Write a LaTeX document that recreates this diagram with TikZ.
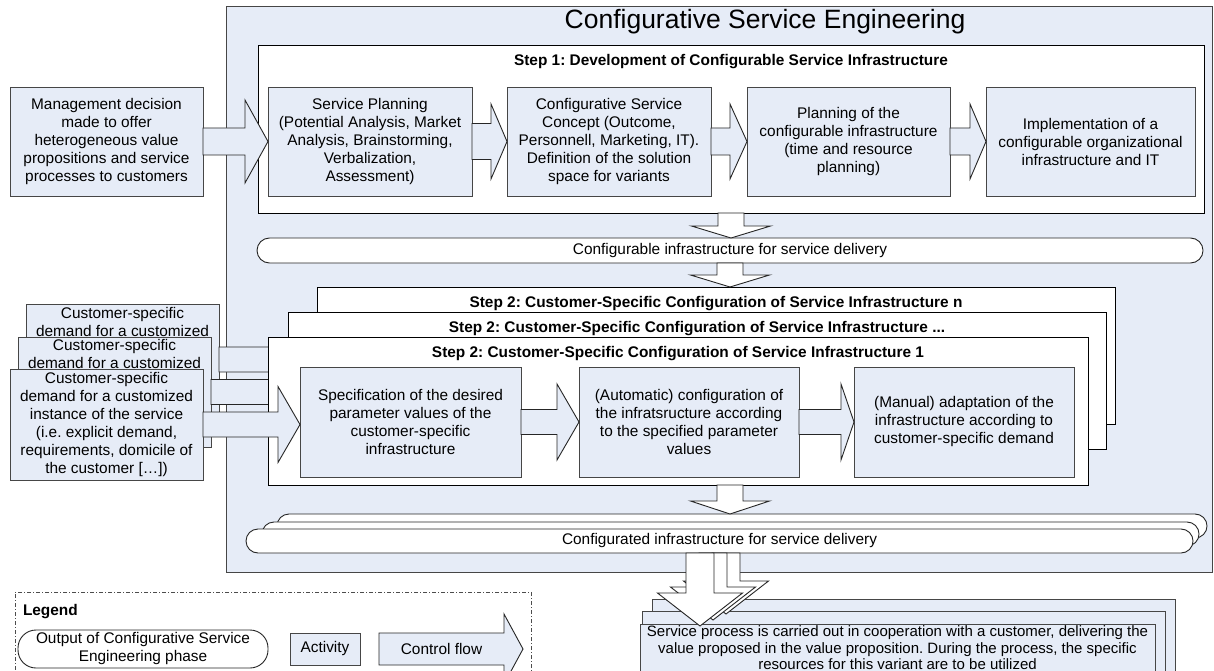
\documentclass[tikz,border=0pt]{standalone}
\usepackage{fontspec}
\setmainfont{Liberation Sans}
\usepackage{xcolor}
\definecolor{cselight}{RGB}{230,236,247}
\definecolor{cseline}{RGB}{70,70,70}
\usetikzlibrary{calc}

% block arrow to the right: style, start, tip, shaft half, head half, head length
\newcommand{\flowright}[6]{%
  \draw[#1] let \p1=(#2), \p2=(#3) in
    (\x1,\y2+#4pt) -- (\x2-#6pt,\y2+#4pt) -- (\x2-#6pt,\y2+#5pt) -- (\x2,\y2)
    -- (\x2-#6pt,\y2-#5pt) -- (\x2-#6pt,\y2-#4pt) -- (\x1,\y2-#4pt) -- cycle;}
% block arrow pointing down
\newcommand{\flowdown}[6]{%
  \draw[#1] let \p1=(#2), \p2=(#3) in
    (\x2-#4pt,\y1) -- (\x2-#4pt,\y2+#6pt) -- (\x2-#5pt,\y2+#6pt) -- (\x2,\y2)
    -- (\x2+#5pt,\y2+#6pt) -- (\x2+#4pt,\y2+#6pt) -- (\x2+#4pt,\y1) -- cycle;}
\newcommand{\demandtext}{Customer-specific\\demand for a customized\\instance of the service\\(i.e. explicit demand,\\requirements, domicile of\\the customer […])}

\begin{document}
\frenchspacing
\begin{tikzpicture}[x=1pt,y=-1pt,
    every node/.style={inner sep=0pt,outer sep=0pt,align=center,font=\fontsize{15.4}{18}\selectfont},
    boxsize/.style 2 args={minimum width=#1pt,minimum height=#2pt},
    activity/.style={draw=cseline,fill=cselight,line width=0.9pt},
    stepbox/.style={draw=black,fill=white,line width=0.9pt},
    outputcap/.style={draw=black!85,fill=white,rounded corners=12pt,line width=0.9pt},
    heading/.style={font=\fontsize{15.4}{18}\selectfont\bfseries},
    flow/.style={draw=black!85,fill=cselight,line width=0.9pt},
    flowdn/.style={draw=black!85,fill=white,line width=0.9pt}]
    \useasboundingbox (0,0) rectangle (1214,671);

    \node(cse)[draw=cseline,fill=cselight,line width=0.9pt,boxsize={986}{566}] at (719,289) {};
    \node(title)[font=\fontsize{26.5}{30}\selectfont] at (765,22) {Configurative Service Engineering};

    % step 1
    \node(s1)[stepbox,boxsize={946}{168}] at (731,129) {};
    \node(s1h)[heading] at ([yshift=-16.5pt]s1.north) {Step 1: Development of Configurable Service Infrastructure};
    \node(mgmt)[activity,boxsize={193}{109}] at (106.5,141.5) {Management decision\\made to offer\\heterogeneous value\\propositions and service\\processes to customers};
    \node(plan)[activity,boxsize={204}{109}] at (370,141.5) {Service Planning\\(Potential Analysis, Market\\Analysis, Brainstorming,\\Verbalization,\\Assessment)};
    \node(concept)[activity,boxsize={204}{109}] at (609,141.5) {Configurative Service\\Concept (Outcome,\\Personnell, Marketing, IT).\\Definition of the solution\\space for variants};
    \node(infra)[activity,boxsize={203}{109}] at (848.5,141.5) {Planning of the\\configurable infrastructure\\(time and resource\\planning)};
    \node(impl)[activity,boxsize={209}{109}] at (1090.5,141.5) {Implementation of a\\configurable organizational\\infrastructure and IT};
    \flowright{flow}{mgmt.east}{plan.west}{13.5}{41.5}{23}
    \flowright{flow}{plan.east}{concept.west}{18}{37.5}{16}
    \flowright{flow}{concept.east}{infra.west}{13.5}{37.5}{17}
    \flowright{flow}{infra.east}{impl.west}{13.5}{37.5}{16}

    \node(cap1)[outputcap,boxsize={946}{25},rounded corners=12.5pt] at (730,250.5) {Configurable infrastructure for service delivery};
    \flowdown{flowdn}{s1.south}{s1.south |- cap1.north}{13}{39.5}{12}

    % customer-specific demand
    \node(custc)[activity,boxsize={193}{111}] at (122.5,359.5) {\demandtext};
    \node(custb)[activity,boxsize={193}{110}] at (114.5,392) {\demandtext};
    \node(custa)[activity,boxsize={193}{111}] at (106.5,424.5) {\demandtext};
    \node(s2n)[stepbox,boxsize={798}{137}] at (716,355.5) {};
    \flowright{flow}{custc.east}{s2n.west |- custc.east}{12.5}{38}{16}
    \flowright{flow}{custb.east}{[xshift=-29pt]s2n.west |- custb.east}{12.5}{38}{16}
    \flowdown{flowdn}{cap1.south}{cap1.south |- s2n.north}{13}{39.5}{12}

    % step 2
    \node(s2nh)[heading] at ([yshift=-16.5pt]s2n.north) {Step 2: Customer-Specific Configuration of Service Infrastructure n};
    \node(s2m)[stepbox,boxsize={818}{137}] at (697,380.5) {};
    \node(s2mh)[heading] at ([yshift=-16.5pt]s2m.north) {Step 2: Customer-Specific Configuration of Service Infrastructure ...};
    \node(s2a)[stepbox,boxsize={820}{148}] at (678,411) {};
    \node(s2ah)[heading] at ([yshift=-16.5pt]s2a.north) {Step 2: Customer-Specific Configuration of Service Infrastructure 1};
    \node(spec)[activity,boxsize={221}{110}] at (410.5,422) {Specification of the desired\\parameter values of the\\customer-specific\\infrastructure};
    \node(auto)[activity,boxsize={220}{110}] at (689,422) {(Automatic) configuration of\\the infratsructure according\\to the specified parameter\\values};
    \node(manual)[activity,boxsize={220}{110}] at (964,422) {(Manual) adaptation of the\\infrastructure according to\\customer-specific demand};
    \flowright{flow}{custa.east}{spec.west |- custa.east}{12.5}{38}{22}
    \flowright{flow}{spec.east}{auto.west}{12.5}{38}{22}
    \flowright{flow}{auto.east}{manual.west}{12.5}{38}{13}

    \node(cap2c)[outputcap,boxsize={930}{24}] at (742,526) {};
    \node(cap2b)[outputcap,boxsize={937}{24}] at (730.5,534) {};
    \node(cap2a)[outputcap,boxsize={947}{24}] at (719.5,541) {Configurated infrastructure for service delivery};
    \coordinate (d3) at ([xshift=52pt]s2a.south);
    \flowdown{flowdn}{d3}{d3 |- cap2c.north}{13}{39.5}{13}

    % service process
    \node(svcc)[activity,boxsize={523}{77}] at (913.5,637.5) {};
    \node(svcb)[activity,boxsize={523}{65}] at (903.5,643.5) {};
    \node(svca)[activity,boxsize={515}{48},font=\fontsize{15}{16.5}\selectfont] at (897.5,648) {Service process is carried out in cooperation with a customer, delivering the\\value proposed in the value proposition. During the process, the specific\\resources for this variant are to be utilized};
    \coordinate (out3) at (726,614);
    \coordinate (out2) at (713,620);
    \coordinate (out1) at (700,626);
    \flowdown{flowdn}{cap2a.south -| out3}{out3}{14}{42.5}{33}
    \flowdown{flowdn}{cap2a.south -| out2}{out2}{14}{42.5}{33}
    \flowdown{flowdn}{cap2a.south -| out1}{out1}{14}{42.5}{33}

    % legend
    \node(legend)[draw=black!70,dash pattern=on 4pt off 2pt on 1pt off 2pt,line width=0.8pt,boxsize={516}{100}] at (273,642) {};
    \node(legendh)[heading,anchor=west] at ([xshift=8pt,yshift=-20pt]legend.north west) {Legend};
    \node(legcap)[outputcap,boxsize={250}{38},rounded corners=18pt] at (143,649) {Output of Configurative Service\\Engineering phase};
    \node(legact)[activity,boxsize={70}{32}] at (325,649) {Activity};
    \coordinate (lf0) at (379,649);
    \coordinate (lf1) at (523,649);
    \flowright{flow}{lf0}{lf1}{16}{35}{19}
    \node(legflow) at (441.5,649) {Control flow};
\end{tikzpicture}
\end{document}
